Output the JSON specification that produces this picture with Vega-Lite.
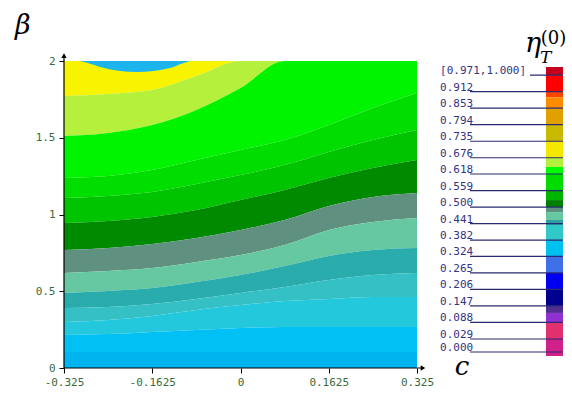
{
  "$schema": "https://vega.github.io/schema/vega-lite/v6.json",
  "width": 353,
  "height": 307,
  "autosize": {"type": "none"},
  "padding": {"left": 64, "top": 61, "right": 155, "bottom": 30},
  "background": "white",
  "config": {"view": {"stroke": null}},
  "datasets": {
    "one": [{}],
    "grid": [
      {"c": -0.325, "k00": 2, "k01": 1.772, "k02": 1.511, "k03": 1.238, "k04": 1.107, "k05": 0.945, "k06": 0.769, "k07": 0.619, "k08": 0.489, "k09": 0.391, "k10": 0.300, "k11": 0.215, "k12": 0.104, "k13": 0},
      {"c": -0.24375, "k00": 2, "k01": 1.785, "k02": 1.531, "k03": 1.251, "k04": 1.121, "k05": 0.958, "k06": 0.782, "k07": 0.632, "k08": 0.502, "k09": 0.397, "k10": 0.313, "k11": 0.221, "k12": 0.104, "k13": 0},
      {"c": -0.1625, "k00": 2, "k01": 1.811, "k02": 1.583, "k03": 1.290, "k04": 1.147, "k05": 0.984, "k06": 0.808, "k07": 0.651, "k08": 0.521, "k09": 0.417, "k10": 0.339, "k11": 0.235, "k12": 0.104, "k13": 0},
      {"c": -0.08125, "k00": 2, "k01": 1.902, "k02": 1.681, "k03": 1.355, "k04": 1.199, "k05": 1.029, "k06": 0.847, "k07": 0.691, "k08": 0.560, "k09": 0.450, "k10": 0.378, "k11": 0.248, "k12": 0.104, "k13": 0},
      {"c": 0, "k00": 2, "k01": 2, "k02": 1.824, "k03": 1.420, "k04": 1.257, "k05": 1.094, "k06": 0.899, "k07": 0.736, "k08": 0.606, "k09": 0.489, "k10": 0.410, "k11": 0.261, "k12": 0.104, "k13": 0},
      {"c": 0.08125, "k00": 2, "k01": 2, "k02": 2, "k03": 1.485, "k04": 1.322, "k05": 1.160, "k06": 0.964, "k07": 0.801, "k08": 0.664, "k09": 0.528, "k10": 0.436, "k11": 0.267, "k12": 0.104, "k13": 0},
      {"c": 0.1625, "k00": 2, "k01": 2, "k02": 2, "k03": 1.583, "k04": 1.407, "k05": 1.238, "k06": 1.055, "k07": 0.899, "k08": 0.730, "k09": 0.573, "k10": 0.450, "k11": 0.267, "k12": 0.104, "k13": 0},
      {"c": 0.24375, "k00": 2, "k01": 2, "k02": 2, "k03": 1.694, "k04": 1.485, "k05": 1.303, "k06": 1.114, "k07": 0.951, "k08": 0.769, "k09": 0.606, "k10": 0.463, "k11": 0.267, "k12": 0.104, "k13": 0},
      {"c": 0.325, "k00": 2, "k01": 2, "k02": 2, "k03": 1.792, "k04": 1.550, "k05": 1.355, "k06": 1.140, "k07": 0.977, "k08": 0.782, "k09": 0.619, "k10": 0.463, "k11": 0.267, "k12": 0.104, "k13": 0}
    ],
    "cap": [
      {"c": -0.2955, "b": 2},
      {"c": -0.28, "b": 1.985},
      {"c": -0.2587, "b": 1.961},
      {"c": -0.1906, "b": 1.928},
      {"c": -0.1298, "b": 1.954},
      {"c": -0.11, "b": 1.98},
      {"c": -0.093, "b": 2}
    ],
    "segs": [
      {"s": "s01", "lo": 0.971, "hi": 1.0},
      {"s": "s02", "lo": 0.912, "hi": 0.971},
      {"s": "s03", "lo": 0.892, "hi": 0.912},
      {"s": "s04", "lo": 0.853, "hi": 0.892},
      {"s": "s05", "lo": 0.794, "hi": 0.853},
      {"s": "s06", "lo": 0.735, "hi": 0.794},
      {"s": "s07", "lo": 0.676, "hi": 0.735},
      {"s": "s08", "lo": 0.643, "hi": 0.676},
      {"s": "s09", "lo": 0.618, "hi": 0.643},
      {"s": "s10", "lo": 0.559, "hi": 0.618},
      {"s": "s11", "lo": 0.525, "hi": 0.559},
      {"s": "s12", "lo": 0.500, "hi": 0.525},
      {"s": "s13", "lo": 0.482, "hi": 0.500},
      {"s": "s14", "lo": 0.454, "hi": 0.482},
      {"s": "s15", "lo": 0.436, "hi": 0.454},
      {"s": "s16", "lo": 0.382, "hi": 0.436},
      {"s": "s17", "lo": 0.324, "hi": 0.382},
      {"s": "s18", "lo": 0.265, "hi": 0.324},
      {"s": "s19", "lo": 0.206, "hi": 0.265},
      {"s": "s20", "lo": 0.147, "hi": 0.206},
      {"s": "s21", "lo": 0.122, "hi": 0.147},
      {"s": "s22", "lo": 0.088, "hi": 0.122},
      {"s": "s23", "lo": 0.029, "hi": 0.088},
      {"s": "s24", "lo": -0.0089, "hi": 0.029}
    ],
    "labs": [
      {"t": "[0.971,1.000]", "v": 0.971},
      {"t": "0.912", "v": 0.912},
      {"t": "0.853", "v": 0.853},
      {"t": "0.794", "v": 0.794},
      {"t": "0.735", "v": 0.735},
      {"t": "0.676", "v": 0.676},
      {"t": "0.618", "v": 0.618},
      {"t": "0.559", "v": 0.559},
      {"t": "0.500", "v": 0.500},
      {"t": "0.441", "v": 0.441},
      {"t": "0.382", "v": 0.382},
      {"t": "0.324", "v": 0.324},
      {"t": "0.265", "v": 0.265},
      {"t": "0.206", "v": 0.206},
      {"t": "0.147", "v": 0.147},
      {"t": "0.088", "v": 0.088},
      {"t": "0.029", "v": 0.029},
      {"t": "0.000", "v": 0.0}
    ]
  },
  "layer": [
    {
      "layer": [
        {
          "data": {"name": "grid"},
          "transform": [
            {"fold": ["k00", "k01", "k02", "k03", "k04", "k05", "k06", "k07", "k08", "k09", "k10", "k11", "k12", "k13"], "as": ["k", "b"]},
            {"window": [{"op": "lead", "field": "b", "as": "lo"}], "groupby": ["c"], "sort": [{"field": "k", "order": "ascending"}]},
            {"filter": "datum.lo != null"}
          ],
          "mark": {"type": "area", "interpolate": "monotone"},
          "encoding": {
            "x": {
              "field": "c", "type": "quantitative",
              "scale": {"domain": [-0.325, 0.325], "nice": false, "zero": false},
              "axis": {"values": [-0.325, -0.1625, 0, 0.1625, 0.325], "labelExpr": "toString(datum.value)", "domain": false, "grid": false, "tickSize": 5, "tickColor": "black", "labelFont": "DejaVu Sans Mono", "labelFontSize": 11, "labelColor": "#3A6A3A", "labelPadding": 3, "title": null, "labelFlush": false, "labelOverlap": false}
            },
            "y": {
              "field": "b", "type": "quantitative",
              "scale": {"domain": [0, 2], "nice": false, "zero": false},
              "axis": {"values": [0, 0.5, 1, 1.5, 2], "labelExpr": "toString(datum.value)", "domain": false, "grid": false, "tickSize": 5, "tickColor": "black", "labelFont": "DejaVu Sans Mono", "labelFontSize": 11, "labelColor": "#3A6A3A", "labelPadding": 4, "title": null, "labelFlush": false, "labelOverlap": false}
            },
            "y2": {"field": "lo"},
            "color": {
              "field": "k", "type": "nominal",
              "scale": {"domain": ["k00", "k01", "k02", "k03", "k04", "k05", "k06", "k07", "k08", "k09", "k10", "k11", "k12"],
                        "range": ["#F8F400", "#B4F03C", "#00F400", "#00DE00", "#00C400", "#008A00", "#5F9080", "#66C8A0", "#2AACAC", "#34C0C4", "#24C8DC", "#00C0F4", "#00B4F0"]},
              "legend": null
            }
          }
        },
        {
          "data": {"name": "cap"},
          "mark": {"type": "area", "interpolate": "monotone", "color": "#1CB4EC"},
          "encoding": {
            "x": {"field": "c", "type": "quantitative"},
            "y": {"field": "b", "type": "quantitative"},
            "y2": {"datum": 2}
          }
        },
        {
          "data": {"name": "one"},
          "mark": {"type": "rule", "color": "black", "strokeWidth": 1.2},
          "encoding": {
            "x": {"datum": -0.325, "type": "quantitative"},
            "y": {"datum": 0, "type": "quantitative"},
            "y2": {"datum": 2.04}
          }
        },
        {
          "data": {"name": "one"},
          "mark": {"type": "rule", "color": "black", "strokeWidth": 1.2},
          "encoding": {
            "x": {"datum": -0.325, "type": "quantitative"},
            "x2": {"datum": 0.333},
            "y": {"datum": 0, "type": "quantitative"}
          }
        },
        {
          "data": {"name": "one"},
          "mark": {"type": "point", "shape": "triangle-up", "filled": true, "color": "black", "size": 28, "opacity": 1},
          "encoding": {
            "x": {"datum": -0.325, "type": "quantitative"},
            "y": {"datum": 2.035, "type": "quantitative"}
          }
        },
        {
          "data": {"name": "one"},
          "mark": {"type": "point", "shape": "triangle-right", "filled": true, "color": "black", "size": 28, "opacity": 1},
          "encoding": {
            "x": {"datum": 0.336, "type": "quantitative"},
            "y": {"datum": 0, "type": "quantitative"}
          }
        },
        {
          "data": {"name": "one"},
          "mark": {"type": "text", "text": "β", "font": "DejaVu Serif", "fontStyle": "italic", "fontSize": 27, "align": "left", "baseline": "alphabetic", "color": "black"},
          "encoding": {
            "x": {"datum": -0.415, "type": "quantitative"},
            "y": {"datum": 2.176, "type": "quantitative"}
          }
        },
        {
          "data": {"name": "one"},
          "mark": {"type": "text", "text": "c", "font": "DejaVu Serif", "fontStyle": "italic", "fontSize": 26, "align": "center", "baseline": "alphabetic", "color": "black"},
          "encoding": {
            "x": {"datum": 0.408, "type": "quantitative"},
            "y": {"datum": -0.047, "type": "quantitative"}
          }
        }
      ]
    },
    {
      "layer": [
        {
          "data": {"name": "segs"},
          "mark": {"type": "rect"},
          "encoding": {
            "x": {"datum": 0.5625, "type": "quantitative"},
            "x2": {"datum": 0.5938},
            "y": {"field": "lo", "type": "quantitative", "scale": {"domain": [-0.0089, 0.029, 1.0], "range": [295, 278, 6], "nice": false, "zero": false}, "axis": null},
            "y2": {"field": "hi"},
            "color": {
              "field": "s", "type": "nominal",
              "scale": {"domain": ["s01", "s02", "s03", "s04", "s05", "s06", "s07", "s08", "s09", "s10", "s11", "s12", "s13", "s14", "s15", "s16", "s17", "s18", "s19", "s20", "s21", "s22", "s23", "s24"],
                        "range": ["#C4001C", "#FF0000", "#FF4400", "#FF8C00", "#E0A000", "#C8B800", "#F5E800", "#B4F03C", "#00FF00", "#00DC00", "#00B400", "#008000", "#5F8F7F", "#66C8A0", "#2DA0A0", "#30C8C8", "#00C0F0", "#4070E8", "#0000F0", "#000090", "#502E90", "#9030D0", "#E03070", "#D0208A"]},
              "legend": null
            }
          }
        },
        {
          "data": {"name": "labs"},
          "transform": [{"filter": "datum.v < 0.95"}],
          "mark": {"type": "rule", "color": "#2A2A70", "strokeWidth": 1.2},
          "encoding": {
            "x": {"datum": 0.4226, "type": "quantitative"},
            "x2": {"datum": 0.5938},
            "y": {"field": "v", "type": "quantitative"}
          }
        },
        {
          "data": {"name": "labs"},
          "transform": [{"filter": "datum.v > 0.95"}],
          "mark": {"type": "rule", "color": "#2A2A70", "strokeWidth": 1.2},
          "encoding": {
            "x": {"datum": 0.5331, "type": "quantitative"},
            "x2": {"datum": 0.5938},
            "y": {"field": "v", "type": "quantitative"}
          }
        },
        {
          "data": {"name": "labs"},
          "mark": {"type": "text", "font": "DejaVu Sans Mono", "fontSize": 11, "align": "left", "baseline": "alphabetic", "dy": -1, "color": "#33337F"},
          "encoding": {
            "x": {"datum": 0.3674, "type": "quantitative"},
            "y": {"field": "v", "type": "quantitative"},
            "text": {"field": "t"}
          }
        },
        {
          "data": {"name": "one"},
          "mark": {"type": "text", "text": "η", "font": "DejaVu Serif", "fontStyle": "italic", "fontSize": 27, "align": "left", "baseline": "alphabetic", "color": "black"},
          "encoding": {
            "x": {"datum": 0.524, "type": "quantitative"},
            "y": {"datum": 1.0535, "type": "quantitative"}
          }
        },
        {
          "data": {"name": "one"},
          "mark": {"type": "text", "text": "T", "font": "DejaVu Serif", "fontStyle": "italic", "fontSize": 17, "align": "left", "baseline": "alphabetic", "color": "black"},
          "encoding": {
            "x": {"datum": 0.5515, "type": "quantitative"},
            "y": {"datum": 1.0139, "type": "quantitative"}
          }
        },
        {
          "data": {"name": "one"},
          "mark": {"type": "text", "text": "(0)", "font": "DejaVu Serif", "fontSize": 18, "align": "left", "baseline": "alphabetic", "color": "black"},
          "encoding": {
            "x": {"datum": 0.553, "type": "quantitative"},
            "y": {"datum": 1.0816, "type": "quantitative"}
          }
        }
      ]
    }
  ],
  "resolve": {"scale": {"y": "independent", "color": "independent"}}
}
